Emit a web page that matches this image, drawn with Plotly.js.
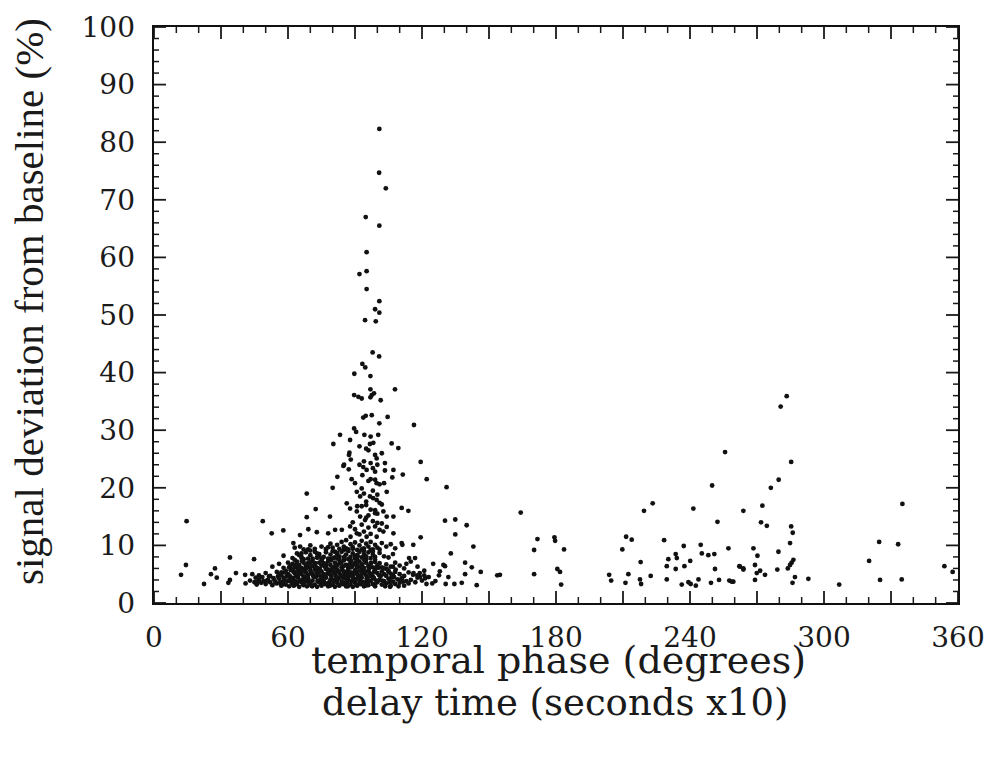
<!DOCTYPE html>
<html>
<head>
<meta charset="utf-8">
<script src="https://cdn.plot.ly/plotly-3.0.1.min.js"></script>
<style>html,body{margin:0;padding:0;background:#fff;}#chart{width:996px;height:760px;}</style>
</head>
<body>
<div id="chart"></div>
<script>
// Axis ticks and labels
const xMajorTicks = [0, 30, 60, 90, 120, 150, 180, 210, 240, 270, 300, 330, 360];
const xMinorTicks = [10, 20, 40, 50, 70, 80, 100, 110, 130, 140, 160, 170, 190, 200, 220, 230, 250, 260, 280, 290, 310, 320, 340, 350];
const xLabelVals = [0, 60, 120, 180, 240, 300, 360];
const yMajorTicks = [0, 10, 20, 30, 40, 50, 60, 70, 80, 90, 100];
const yMinorTicks = [2, 4, 6, 8, 12, 14, 16, 18, 22, 24, 26, 28, 32, 34, 36, 38, 42, 44, 46, 48, 52, 54, 56, 58,
  62, 64, 66, 68, 72, 74, 76, 78, 82, 84, 86, 88, 92, 94, 96, 98];

// Sparse points left of the main cluster
const leftX = [14.6, 14.3, 12.1, 22.4, 27.3, 34.0, 25.5, 28.1, 33.3, 34.0, 36.7, 44.8, 40.8, 48.7, 52.7, 57.9, 62.4, 65.4, 65.4];
const leftY = [14.2, 6.6, 4.9, 3.3, 6.0, 7.9, 5.0, 4.4, 3.5, 4.0, 5.2, 7.6, 4.9, 14.2, 12.1, 12.6, 10.4, 9.8, 11.8];

// Points above the cluster, x 60-90
const midX = [80.3, 87.3, 84.8, 82.1, 80.0, 68.4, 86.3, 72.4, 78.8, 68.4, 69.1, 72.9, 78.0, 81.1, 84.1];
const midY = [27.6, 25.7, 23.8, 21.9, 20.0, 19.0, 17.3, 16.3, 15.0, 14.9, 12.8, 12.3, 12.1, 12.7, 12.7];

// Spike around 90-105 degrees
const spikeX = [100.9, 100.8, 103.8, 94.8, 100.9, 95.2, 92.0, 95.2, 95.2, 100.9, 99.0, 100.9, 94.5, 99.3, 97.9, 100.8, 93.3, 94.6, 89.7, 96.9,
  107.9, 96.9, 89.6, 91.5, 93.0, 96.9, 97.5, 98.5, 101.5, 93.7, 94.8, 97.5, 104.6, 100.9, 116.4, 89.6, 90.5, 83.3, 87.8, 94.2,
  97.0, 100.4, 96.7, 98.2, 106.4, 109.4, 87.5, 88.1, 99.0, 99.7, 102.0, 85.1, 87.2, 93.7, 95.2, 103.4, 93.3, 103.4, 107.2, 111.4,
  119.4, 122.1, 99.0, 99.7, 88.5, 90.0, 131.0, 90.8, 92.3, 96.7, 98.1, 99.7, 104.2, 87.8, 90.8, 92.3, 94.5, 99.0, 102.7, 104.2,
  107.2, 110.9, 113.9, 102.0, 104.2, 130.3, 87.8, 90.8, 95.2, 99.7, 102.7, 107.2, 110.9, 116.1, 119.4, 106.7,
  88, 90, 92, 93, 94, 95, 96, 97, 98, 99, 100, 101, 93, 95, 97, 98, 100, 101, 96, 99, 94, 100, 96, 92,
  89, 91, 93, 95, 97, 99, 101, 103, 92, 94, 96, 98, 100, 95, 97, 102];
const spikeY = [82.3, 74.7, 72.0, 67.0, 65.5, 60.9, 57.1, 57.6, 54.5, 52.4, 51.0, 50.4, 49.1, 48.9, 43.5, 42.8, 41.5, 40.9, 39.8, 39.4,
  37.1, 37.1, 36.1, 35.8, 35.5, 35.7, 36.1, 36.4, 35.2, 32.2, 32.5, 32.6, 32.3, 31.2, 30.9, 30.3, 29.7, 29.2, 28.3, 29.2,
  28.9, 29.2, 27.6, 27.8, 27.7, 26.9, 26.1, 24.9, 25.7, 25.1, 26.0, 24.0, 23.2, 23.6, 23.1, 24.3, 22.2, 23.0, 23.1, 22.3,
  24.5, 21.5, 21.4, 20.8, 21.5, 20.8, 20.1, 19.3, 18.5, 18.5, 18.2, 17.9, 19.3, 16.4, 15.9, 15.0, 14.4, 16.1, 15.9, 15.0,
  15.0, 16.5, 16.0, 13.8, 13.2, 14.3, 13.3, 12.1, 11.5, 11.5, 12.4, 12.1, 10.4, 10.1, 11.4, 21.8,
  11.5, 12.8, 11.9, 13.6, 12.4, 14.8, 13.1, 12.0, 14.2, 13.3, 15.5, 12.7, 16.8, 17.6, 16.2, 19.5, 18.8, 20.6, 21.2, 22.8, 24.6, 24.0, 26.5, 27.2,
  14.0, 16.8, 19.9, 17.0, 21.5, 15.6, 17.4, 20.8, 24.0, 19.0, 15.2, 23.4, 13.9, 26.8, 24.3, 17.1];

// Dense cluster 40-122 degrees, 2.5-11 %
const clusterX = [41, 43, 45, 46, 47, 48, 49, 50, 51, 52, 53, 54, 55, 56, 57, 57.5, 58, 59, 60, 60.5, 61, 62, 62.5, 63, 64, 64.5, 65, 66, 66.5, 67,
  68, 68.5, 69, 70, 70.5, 71, 72, 72.5, 73, 74, 74.5, 75, 76, 76.5, 77, 78, 78.5, 79, 80, 80.5, 81, 82, 82.5, 83, 84, 84.5, 85, 86, 86.5, 87,
  88, 88.5, 89, 90, 90.5, 91, 92, 92.5, 93, 94, 95, 95.5, 96, 97, 98, 98.5, 99, 100, 101, 102, 103, 104, 105, 106, 107, 108, 109, 110, 111, 112,
  113, 114, 115, 117, 118, 120, 122,
  44, 47, 50, 52, 55, 57, 59, 60, 61, 62, 63, 64, 65, 66, 67, 67.5, 68, 69, 70, 71, 71.5, 72, 73, 74, 75, 76, 76.5, 77, 78, 79, 80, 81, 81.5, 82,
  83, 84, 85, 86, 86.5, 87, 88, 89, 90, 91, 92, 93, 94, 95, 96, 97, 98, 99, 100, 101, 102, 103, 104, 105, 106, 107, 108, 110, 112, 114, 116, 119, 121,
  53, 56, 58, 60, 61, 62, 63, 64, 65, 66, 67, 68, 69, 70, 71, 72, 73, 74, 75, 76, 77, 78, 79, 80, 81, 82, 83, 84, 85, 86, 87, 88, 89, 90, 91, 92,
  93, 94, 95, 96, 97, 98, 99, 100, 101, 102, 104, 106, 108, 110, 113,
  58, 62, 64, 66, 68, 69, 70, 72, 73, 74, 76, 77, 78, 79, 80, 81, 82, 83, 84, 85, 86, 87, 88, 89, 90, 91, 92, 93, 94, 95, 96, 97, 98, 99, 101, 103, 105, 107,
  63, 67, 70, 72, 75, 77, 79, 80, 82, 83, 84, 85, 86, 87, 88, 89, 90, 91, 92, 93, 94, 95, 96, 97, 98, 99, 100, 102, 104, 106, 108,
  55.5, 56.5, 58.5, 59.5, 61.5, 63.5, 65.5, 67.5, 69.5, 71.5, 73.5, 75.5, 77.5, 79.5, 81.5, 83.5, 85.5, 87.5, 89.5, 91.5, 93.5, 95.5, 97.5, 99.5, 101.5, 103.5, 105.5, 107.5, 109.5, 111.5,
  58.5, 60.5, 62.5, 64.5, 66.5, 68.5, 70.5, 72.5, 74.5, 76.5, 78.5, 80.5, 82.5, 84.5, 86.5, 88.5, 90.5, 92.5, 94.5, 96.5, 98.5, 100.5, 103, 105, 107,
  63, 65, 67, 69, 71, 73, 75, 77, 79, 81, 83, 85, 87, 89, 91, 93, 95, 97, 99, 101,
  112, 115, 118, 121, 123, 125, 126, 128,
  45.5, 46.5, 48.5, 50.5, 51.5, 53.5, 54.5, 56, 57, 58, 60.2, 61.2, 62.2, 63.2, 64.2, 65.2, 66.2, 67.2, 68.2, 69.2, 70.2, 71.2, 72.2, 73.2, 74.2,
  75.2, 76.2, 77.2, 78.2, 79.2, 80.2, 81.2, 82.2, 83.2, 84.2, 85.2, 86.2, 87.2, 88.2, 89.2, 90.2, 91.2, 92.2, 93.2, 94.2, 95.2, 96.2, 97.2, 98.2, 99.2,
  62.8, 64.8, 66.8, 68.8, 70.8, 72.8, 74.8, 76.8, 78.8, 80.8, 82.8, 84.8, 86.8, 88.8, 90.8, 92.8, 94.8, 96.8, 98.8, 100.8,
  66, 70, 74, 78, 82, 86, 90, 94, 98, 102.2, 104.2, 106.2, 108.2, 110.2,
  64.3, 67.7, 71.3, 74.7, 78.3, 81.7, 85.3, 88.7, 92.3, 95.7, 66.2, 69.8, 73.2, 76.8, 80.2, 83.8, 87.2, 90.8, 94.2];
const clusterY = [3.4, 3.9, 3.6, 3.2, 4.1, 3.5, 3.8, 3.3, 4.0, 3.6, 3.1, 3.9, 3.4, 4.2, 3.0, 3.7, 4.4, 3.2, 3.8, 2.9, 4.1, 3.4, 3.0, 3.9, 3.3, 4.4, 2.8, 3.6, 4.0, 3.1,
  3.7, 2.9, 4.3, 3.4, 3.0, 3.9, 3.2, 4.5, 2.8, 3.6, 4.1, 3.0, 3.8, 3.3, 4.4, 2.9, 3.6, 4.1, 3.2, 3.8, 2.8, 3.5, 4.2, 3.0, 3.7, 3.3, 4.3, 2.9, 3.6, 4.0,
  3.2, 3.8, 2.8, 3.5, 4.2, 3.0, 3.7, 3.3, 4.4, 2.9, 3.6, 4.0, 3.1, 3.8, 3.3, 4.3, 2.9, 3.6, 4.0, 3.2, 3.8, 3.4, 4.2, 3.0, 3.7, 3.3, 4.1, 3.5, 4.3, 3.0,
  3.8, 3.4, 4.0, 3.6, 4.4, 3.9, 3.3,
  5.0, 4.8, 5.2, 4.7, 5.4, 4.9, 5.6, 5.0, 4.6, 5.8, 5.2, 4.8, 5.5, 5.0, 4.6, 5.9, 5.3, 4.9, 5.6, 5.0, 4.6, 5.8, 5.2, 4.8, 5.5, 5.0, 4.6, 5.9, 5.3, 4.9, 5.6, 5.1, 4.6, 5.8,
  5.2, 4.8, 5.5, 5.0, 4.6, 5.9, 5.3, 4.8, 5.6, 5.0, 4.6, 5.7, 5.2, 4.8, 5.5, 5.0, 4.6, 5.8, 5.2, 4.8, 5.5, 5.0, 4.7, 5.6, 5.1, 4.8, 5.4, 5.0, 4.7, 5.3, 4.9, 5.2, 4.8,
  6.3, 6.8, 6.1, 7.0, 6.4, 6.8, 6.2, 7.2, 6.6, 6.1, 7.0, 6.5, 6.9, 6.2, 7.3, 6.6, 6.1, 7.0, 6.5, 6.9, 6.2, 7.3, 6.6, 6.1, 7.0, 6.5, 6.9, 6.2, 7.4, 6.6, 6.1, 7.0, 6.5, 6.9, 6.2, 7.2,
  6.6, 6.1, 7.0, 6.4, 6.8, 6.2, 7.1, 6.5, 6.9, 6.2, 6.7, 6.3, 7.0, 6.5, 6.8,
  8.2, 7.8, 8.6, 8.0, 8.8, 7.7, 8.3, 8.9, 7.9, 8.5, 8.0, 8.8, 7.7, 8.4, 9.0, 7.9, 8.5, 8.1, 8.9, 7.8, 8.4, 9.0, 8.0, 8.6, 7.7, 8.3, 8.9, 7.9, 8.5, 8.1, 8.8, 7.8, 8.4, 8.0, 8.7, 8.1, 7.9, 8.5,
  9.6, 9.3, 10.0, 9.4, 9.8, 9.2, 10.3, 9.6, 10.1, 9.4, 10.6, 9.8, 10.9, 9.3, 10.2, 9.7, 10.5, 9.2, 10.0, 10.8, 9.5, 10.3, 9.8, 10.6, 9.3, 10.1, 9.6, 10.4, 9.8, 10.2, 9.5,
  4.6, 3.5, 3.9, 4.6, 3.6, 4.7, 3.9, 4.5, 3.5, 4.6, 3.8, 4.6, 3.4, 4.7, 3.7, 4.6, 3.5, 4.7, 3.9, 4.6, 3.6, 3.3, 4.6, 3.9, 4.7, 2.9, 3.6, 4.5, 2.9, 3.7,
  5.3, 6.2, 5.4, 6.1, 5.5, 6.3, 5.3, 6.2, 5.5, 6.3, 5.4, 6.2, 5.5, 6.3, 5.4, 6.2, 5.3, 6.3, 5.5, 6.2, 5.4, 6.1, 6.0, 5.4, 6.3,
  7.5, 8.3, 7.6, 9.3, 7.7, 8.6, 7.4, 9.4, 7.6, 8.9, 7.5, 9.2, 7.6, 9.4, 7.5, 9.3, 7.6, 9.2, 7.5, 9.3,
  6.0, 7.2, 6.3, 5.6, 4.5, 6.8, 3.8, 5.5,
  4.4, 3.7, 4.5, 3.9, 4.6, 4.3, 3.5, 4.9, 5.3, 3.3, 4.9, 5.7, 4.3, 6.6, 3.6, 5.9, 7.3, 4.4, 6.0, 3.9, 7.1, 4.8, 6.9, 3.8, 5.9,
  7.6, 4.3, 6.7, 5.1, 7.4, 4.0, 6.4, 7.7, 4.4, 5.8, 8.0, 4.1, 6.6, 7.3, 4.3, 5.7, 8.1, 4.0, 6.7, 7.4, 4.2, 5.9, 7.0, 4.3, 6.0,
  3.1, 5.1, 3.3, 4.6, 2.9, 5.4, 3.2, 4.9, 3.0, 5.3, 3.1, 4.8, 2.9, 5.2, 3.1, 4.9, 3.0, 5.1, 3.2, 4.8,
  8.6, 9.1, 8.1, 9.7, 8.7, 9.5, 8.2, 9.1, 8.9, 3.9, 5.9, 4.4, 5.8, 4.0,
  5.7, 4.2, 6.4, 3.7, 5.8, 4.3, 6.5, 3.8, 5.6, 4.4, 7.7, 6.9, 7.9, 6.8, 7.8, 7.0, 7.6, 6.7, 7.9];

// Sparse points right of the cluster (x > 105)
const rightX = [164.2, 134.9, 140.0, 134.9, 143.0, 132.9, 129.6, 130.3, 139.3, 142.3, 146.3, 153.7, 139.3, 127.6, 131.8, 130.6, 134.5, 137.8, 144.5, 124.6,
  111.2, 114.2, 116.9, 119.1, 121.4, 116.2, 117.9, 105.7,
  171.7, 170.2, 179.3, 179.6, 183.6, 170.2, 180.6, 181.8, 182.3, 154.9, 203.8, 204.7, 211.4, 213.9, 209.7, 212.4, 211.1, 217.9, 217.6, 218.1, 222.4,
  219.4, 223.3, 228.4, 229.6, 229.6, 230.3, 233.6, 234.1, 233.6, 237.2, 237.5, 240.1, 236.3, 239.3, 240.3, 242.6, 243.8, 241.5, 244.8, 245.3, 248.2,
  250.9, 249.9, 252.3, 255.7, 251.2, 249.4, 253.0, 257.2, 257.6, 259.4, 262.1, 263.9, 263.9,
  283.3, 280.6, 285.3, 279.7, 276.2, 272.4, 271.8, 274.4, 285.3, 286.0, 284.8, 279.6, 268.4, 270.2, 286.3, 285.5, 284.8, 283.8, 279.1, 262.4, 263.9,
  269.1, 271.4, 269.9, 273.6, 269.1, 287.0, 285.9, 293.0, 258.7, 306.8, 320.2, 324.7, 333.2, 335.1, 325.1, 334.8, 353.9, 357.6];
const rightY = [15.7, 14.5, 13.5, 11.9, 9.8, 8.6, 6.6, 6.4, 7.0, 6.2, 5.4, 4.8, 5.0, 4.8, 4.5, 3.3, 3.3, 3.5, 3.1, 3.4,
  10.1, 7.8, 7.8, 4.5, 4.3, 5.2, 4.8, 2.8,
  11.1, 9.2, 11.4, 10.8, 9.3, 5.0, 5.9, 5.4, 3.2, 4.9, 4.9, 3.9, 11.5, 11.0, 9.3, 5.0, 3.5, 7.1, 4.1, 3.3, 4.7,
  16.0, 17.3, 10.9, 6.4, 4.1, 7.6, 8.5, 7.8, 5.9, 9.9, 6.4, 7.3, 3.2, 3.6, 3.3, 3.0, 4.1, 16.4, 10.1, 8.6, 8.3,
  8.5, 20.4, 14.1, 26.2, 5.9, 3.5, 4.0, 9.5, 3.9, 3.7, 6.4, 6.0, 16.0,
  35.9, 34.1, 24.5, 21.4, 20.0, 16.9, 14.0, 13.4, 13.3, 12.2, 10.4, 8.9, 9.5, 8.2, 7.5, 7.0, 6.6, 6.0, 5.8, 6.3, 5.8,
  6.6, 5.6, 5.2, 4.9, 4.0, 4.5, 3.5, 4.2, 3.7, 3.2, 7.3, 10.6, 10.2, 17.2, 4.0, 4.1, 6.4, 5.4];

const allX = [].concat(leftX, midX, spikeX, clusterX, rightX);
const allY = [].concat(leftY, midY, spikeY, clusterY, rightY);

const ink = '#1a1a1a';
const tickFont = {family: 'DejaVu Serif', size: 28, color: ink};

// Inward tick marks on all four sides of the frame, built from the tick arrays
const shapes = [];
function xTick(v, len, w) {
  shapes.push({type: 'line', layer: 'above', xref: 'x', yref: 'y domain', ysizemode: 'pixel', yanchor: 0, x0: v, x1: v, y0: 0, y1: len, line: {color: ink, width: w}});
  shapes.push({type: 'line', layer: 'above', xref: 'x', yref: 'y domain', ysizemode: 'pixel', yanchor: 1, x0: v, x1: v, y0: 0, y1: -len, line: {color: ink, width: w}});
}
function yTick(v, len, w) {
  shapes.push({type: 'line', layer: 'above', yref: 'y', xref: 'x domain', xsizemode: 'pixel', xanchor: 0, y0: v, y1: v, x0: 0, x1: len, line: {color: ink, width: w}});
  shapes.push({type: 'line', layer: 'above', yref: 'y', xref: 'x domain', xsizemode: 'pixel', xanchor: 1, y0: v, y1: v, x0: 0, x1: -len, line: {color: ink, width: w}});
}
xMajorTicks.forEach(v => xTick(v, 12, 1.8));
xMinorTicks.forEach(v => xTick(v, 6, 1.5));
yMajorTicks.forEach(v => yTick(v, 12, 1.8));
yMinorTicks.forEach(v => yTick(v, 5, 1.5));

const trace = {
  x: allX, y: allY, type: 'scatter', mode: 'markers',
  marker: {size: 4.8, color: '#111111', line: {width: 0}},
  hoverinfo: 'x+y', showlegend: false
};

// Paper area: x 135..958, y 27..618; plot area: x 154..958, y 27..603
const layout = {
  width: 996, height: 760,
  margin: {l: 135, r: 38, t: 27, b: 142},
  paper_bgcolor: '#ffffff', plot_bgcolor: 'rgba(0,0,0,0)',
  showlegend: false,
  xaxis: {
    domain: [0.02309, 1], range: [0, 360], showticklabels: false, ticks: '',
    showline: true, linecolor: '#111111', linewidth: 2, mirror: true,
    showgrid: false, zeroline: false, fixedrange: true
  },
  yaxis: {
    domain: [0.02538, 1], range: [0, 100], showticklabels: false, ticks: '',
    showline: true, linecolor: '#111111', linewidth: 2, mirror: true,
    showgrid: false, zeroline: false, fixedrange: true
  },
  // labels only, on free axes slightly outside the frame
  xaxis2: {
    overlaying: 'x', anchor: 'free', position: 0, side: 'bottom', domain: [0.02309, 1], range: [0, 360],
    tickmode: 'array', tickvals: xLabelVals, ticks: '', showline: false,
    showgrid: false, zeroline: false, tickfont: tickFont, fixedrange: true
  },
  yaxis2: {
    overlaying: 'y', anchor: 'free', position: 0, side: 'left', domain: [0.02538, 1], range: [0, 100],
    tickmode: 'array', tickvals: yMajorTicks, ticks: '', showline: false,
    showgrid: false, zeroline: false, tickfont: tickFont, fixedrange: true
  },
  shapes: shapes,
  annotations: [
    {text: 'temporal phase (degrees)', xref: 'paper', yref: 'paper', x: 0.514, y: -0.0711, xanchor: 'center', yanchor: 'middle',
     showarrow: false, font: {family: 'DejaVu Serif', size: 38, color: ink}},
    {text: 'delay time (seconds x10)', xref: 'paper', yref: 'paper', x: 0.5115, y: -0.1438, xanchor: 'center', yanchor: 'middle',
     showarrow: false, font: {family: 'DejaVu Serif', size: 37, color: ink}},
    {text: 'signal deviation from baseline (%)', xref: 'paper', yref: 'paper', x: -0.1288, y: 0.5364, xanchor: 'center', yanchor: 'middle',
     textangle: -90, showarrow: false, font: {family: 'Liberation Serif', size: 41, color: ink}}
  ]
};

const labelTrace = {x: [null], y: [null], xaxis: 'x2', yaxis: 'y2', type: 'scatter', mode: 'markers', showlegend: false, hoverinfo: 'skip'};

Plotly.newPlot('chart', [trace, labelTrace], layout, {displayModeBar: false, staticPlot: true});
</script>
</body>
</html>
